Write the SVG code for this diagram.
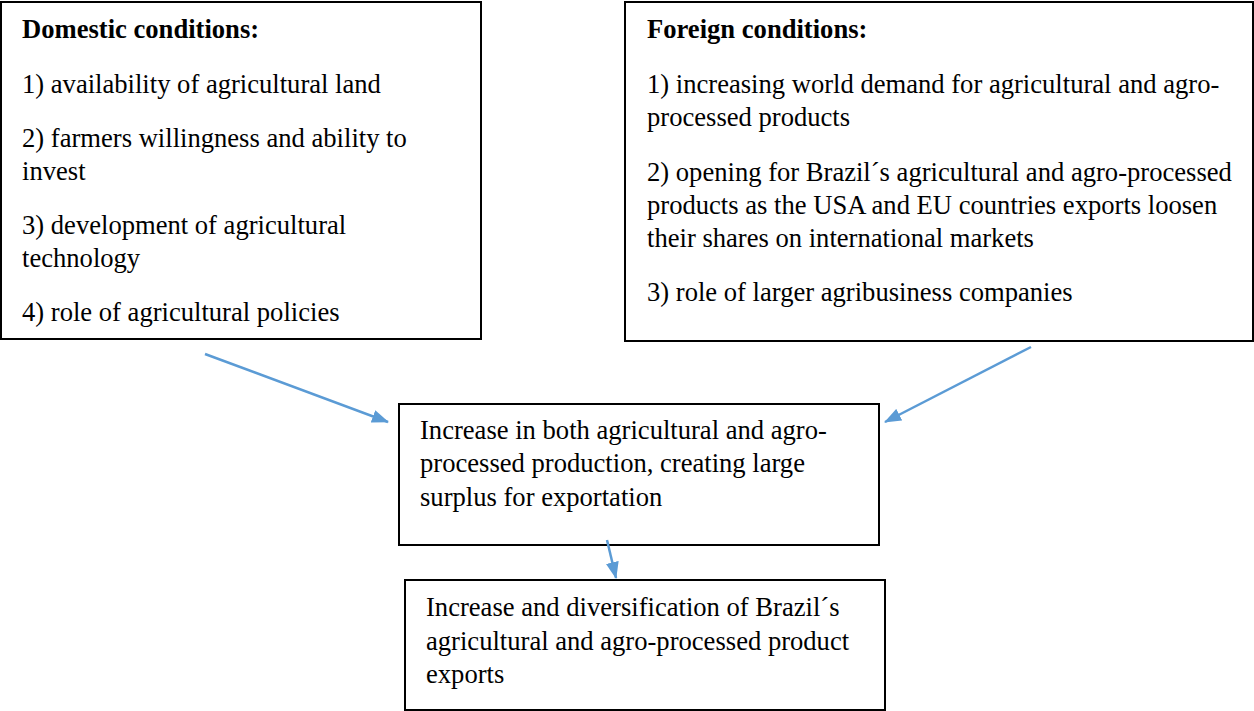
<svg xmlns="http://www.w3.org/2000/svg" width="1254" height="711" viewBox="0 0 1254 711">
<defs>
<style>
.box{fill:#fff;stroke:#000;stroke-width:2}
.t{font-family:"Liberation Serif","Times New Roman",serif;font-size:26.6px;fill:#000}
.b{font-weight:bold}
.c{stroke:#5B9BD5;stroke-width:2.5;fill:none}
</style>
<marker id="ah" viewBox="0 0 17 13" refX="16" refY="6.5" markerWidth="17" markerHeight="13" orient="auto" markerUnits="userSpaceOnUse">
<path d="M0,0 L17,6.5 L0,13 z" fill="#5B9BD5"/>
</marker>
</defs>
<rect width="1254" height="711" fill="#fff"/>
<g id="domestic">
<rect class="box" x="1" y="2" width="480" height="337"/>
<text class="t b" x="22" y="38">Domestic conditions:</text>
<text class="t" x="22" y="93">1) availability of agricultural land</text>
<text class="t" x="22" y="147">2) farmers willingness and ability to</text>
<text class="t" x="22" y="180">invest</text>
<text class="t" x="22" y="234">3) development of agricultural</text>
<text class="t" x="22" y="267">technology</text>
<text class="t" x="22" y="321">4) role of agricultural policies</text>
</g>
<g id="foreign">
<rect class="box" x="625" y="2" width="628" height="339"/>
<text class="t b" x="647" y="38">Foreign conditions:</text>
<text class="t" x="647" y="93">1) increasing world demand for agricultural and agro-</text>
<text class="t" x="647" y="126">processed products</text>
<text class="t" x="647" y="181">2) opening for Brazil´s agricultural and agro-processed</text>
<text class="t" x="647" y="214">products as the USA and EU countries exports loosen</text>
<text class="t" x="647" y="247">their shares on international markets</text>
<text class="t" x="647" y="301">3) role of larger agribusiness companies</text>
</g>
<g id="production">
<rect class="box" x="399" y="404" width="480" height="141"/>
<text class="t" x="420" y="439">Increase in both agricultural and agro-</text>
<text class="t" x="420" y="472">processed production, creating large</text>
<text class="t" x="420" y="506">surplus for exportation</text>
</g>
<g id="exports">
<rect class="box" x="405" y="580" width="480" height="130"/>
<text class="t" x="426" y="616">Increase and diversification of Brazil´s</text>
<text class="t" x="426" y="650">agricultural and agro-processed product</text>
<text class="t" x="426" y="683">exports</text>
</g>
<g id="connectors">
<line class="c" x1="205" y1="354" x2="388" y2="422" marker-end="url(#ah)"/>
<line class="c" x1="1031" y1="347" x2="885" y2="422" marker-end="url(#ah)"/>
<line class="c" x1="607" y1="540" x2="616" y2="578" marker-end="url(#ah)"/>
</g>
</svg>
